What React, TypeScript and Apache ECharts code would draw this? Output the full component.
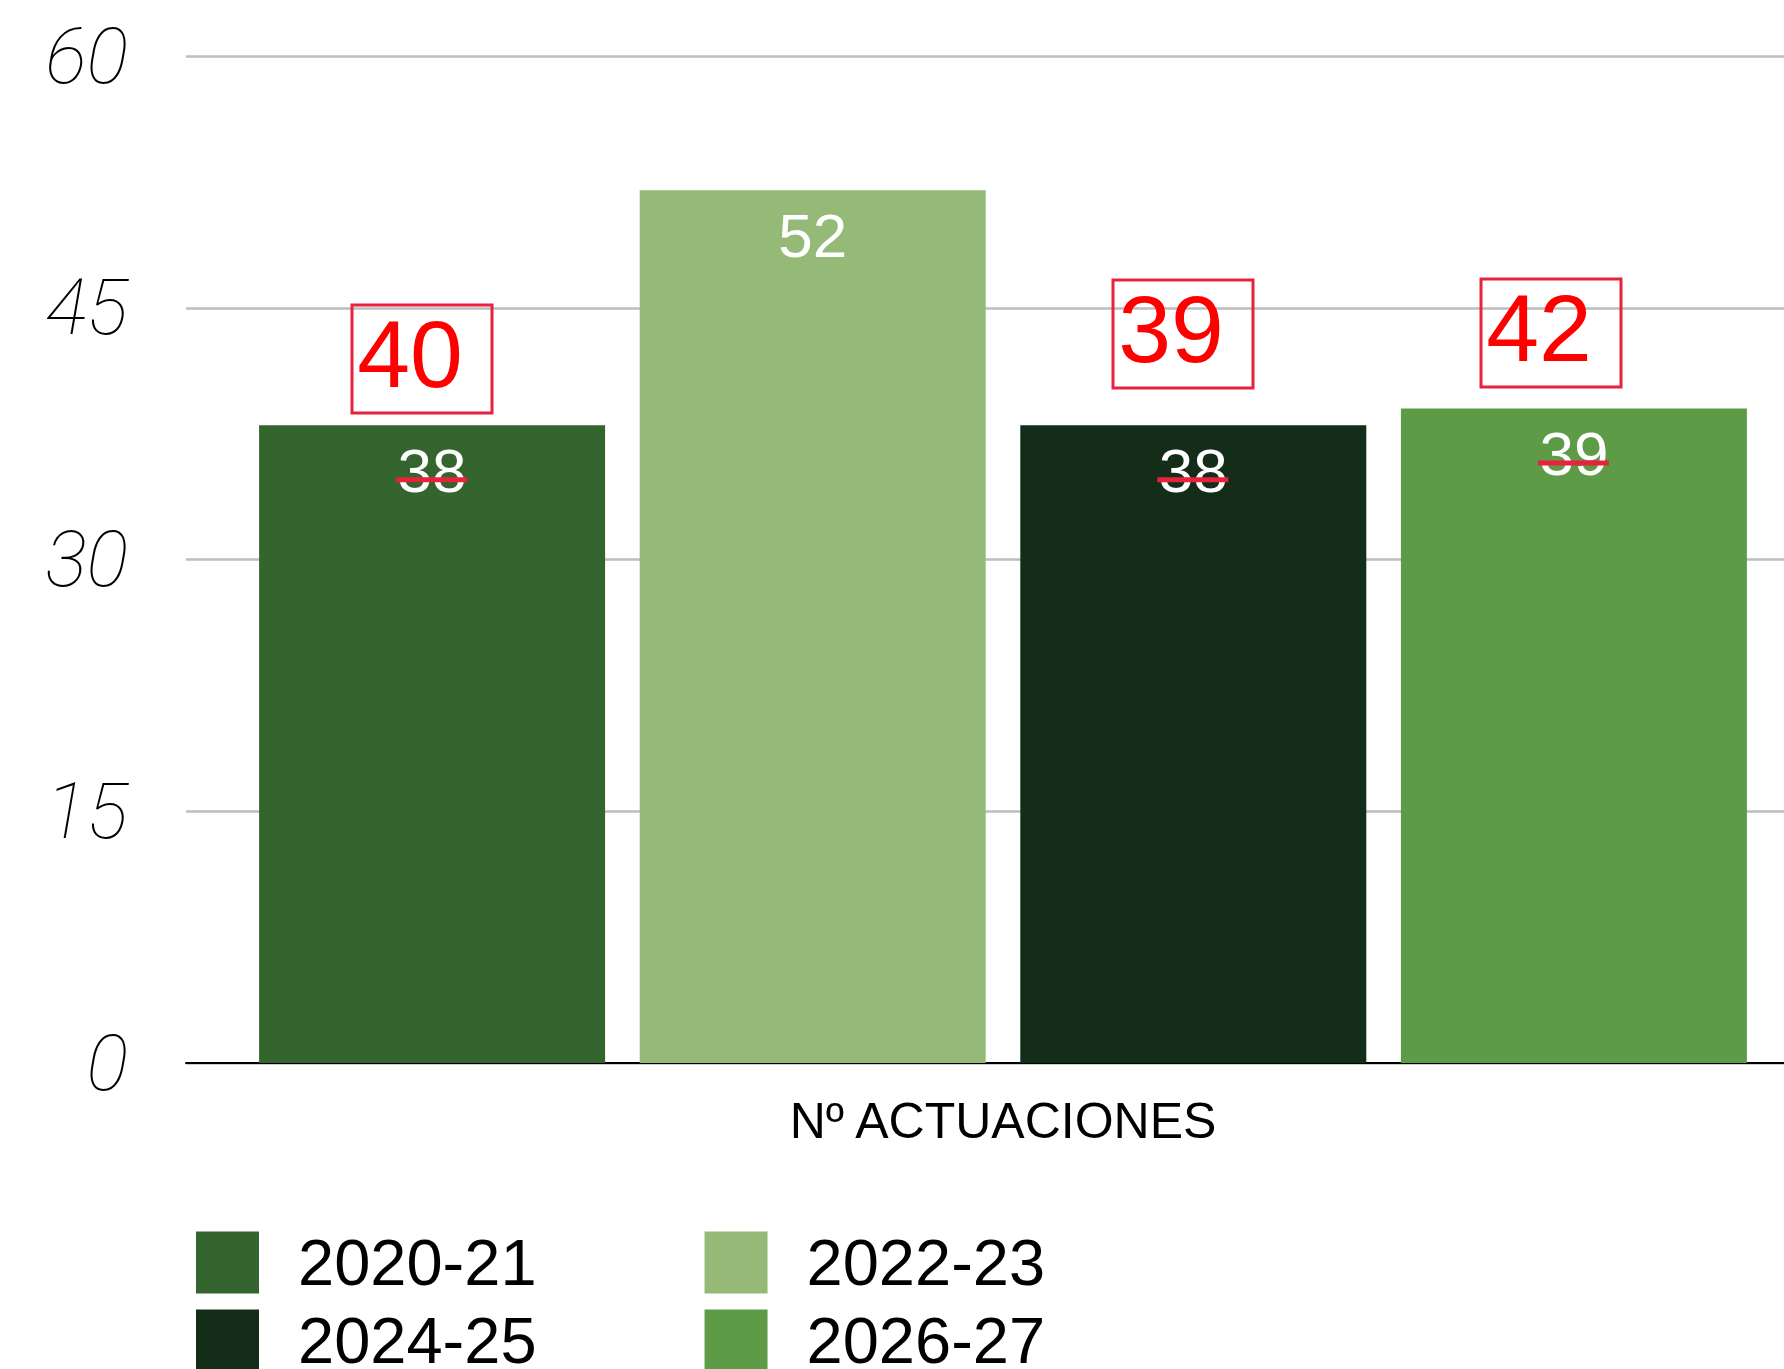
import React, { useEffect, useRef } from "react";
import * as echarts from "echarts";

// ---------- data ----------
const categories = ["Nº ACTUACIONES"];
const seriesNames = ["2020-21", "2022-23", "2024-25", "2026-27"];
const values2020_21 = [38];
const values2022_23 = [52];
const values2024_25 = [38];
const values2026_27 = [39];
const seriesValues = [values2020_21, values2022_23, values2024_25, values2026_27];
const yMin = 0;
const yMax = 60;
const yInterval = 15;
// hand-written corrections over struck-out labels (null = no correction)
const correctedValues: (string | null)[] = ["40", null, "39", "42"];

// ---------- styles ----------
const seriesColors = ["#35652e", "#95b977", "#132d18", "#5d9b46"];
const annotationBoxes: ({ left: number; top: number } | null)[] = [
  { left: 352, top: 305 },
  null,
  { left: 1113, top: 280 },
  { left: 1481, top: 279 },
];
const RED = "#ff0000";
const BOX_RED = "#e8223c";

export default function App() {
  const ref = useRef<HTMLDivElement>(null);

  useEffect(() => {
    if (!ref.current) return;
    const chart = echarts.init(ref.current, undefined, { renderer: "svg" });

    const legendText = {
      fontSize: 65,
      fontFamily: "Liberation Sans, Arial, sans-serif",
      color: "#000",
      padding: [0, 0, 0, 34],
      lineHeight: 62,
    };

    const option: any = {
      animation: false,
      backgroundColor: "#ffffff",
      grid: {
        left: 186,
        width: 1634,
        top: 56,
        bottom: 306,
        containLabel: false,
        outerBoundsMode: "none",
      },
      xAxis: {
        type: "category",
        data: categories,
        axisLine: { show: true, lineStyle: { color: "#000", width: 2 } },
        axisTick: { show: false },
        axisLabel: {
          fontSize: 50,
          fontFamily: "Liberation Sans, Arial, sans-serif",
          color: "#000",
          margin: 33,
        },
      },
      yAxis: {
        type: "value",
        min: yMin,
        max: yMax,
        interval: yInterval,
        axisLine: { show: false },
        axisTick: { show: false },
        splitLine: { lineStyle: { color: "#bdbdbd", width: 2.5 } },
        axisLabel: {
          fontSize: 78,
          fontStyle: "italic",
          fontWeight: 100,
          fontFamily: "Roboto, sans-serif",
          color: "#000",
          margin: 58,
        },
      },
      legend: [
        {
          data: [seriesNames[0], seriesNames[1]],
          left: 196,
          top: 1230,
          icon: "rect",
          itemWidth: 63,
          itemHeight: 62,
          itemGap: 168,
          selectedMode: false,
          padding: 0,
          textStyle: legendText,
        },
        {
          data: [seriesNames[2], seriesNames[3]],
          left: 196,
          top: 1308,
          icon: "rect",
          itemWidth: 63,
          itemHeight: 62,
          itemGap: 168,
          selectedMode: false,
          padding: 0,
          textStyle: legendText,
        },
      ],
      series: seriesNames.map((name, i) => ({
        name,
        type: "bar",
        data: seriesValues[i],
        barWidth: 346,
        barGap: "10%",
        itemStyle: { color: seriesColors[i] },
        label: {
          show: true,
          position: "insideTop",
          distance: 14,
          color: "#ffffff",
          fontSize: 62,
          fontFamily: "Liberation Sans, Arial, sans-serif",
        },
      })),
    };

    chart.setOption(option);

    // annotations: strike-through lines on labels and corrected values in boxes
    const graphics: any[] = [];
    seriesNames.forEach((_, i) => {
      const corr = correctedValues[i];
      if (corr == null) return;
      let layout: any = null;
      try {
        layout = (chart as any).getModel().getSeriesByIndex(i).getData().getItemLayout(0);
      } catch (e) {
        layout = null;
      }
      if (layout) {
        const cx = layout.x + layout.width / 2;
        const top = Math.min(layout.y, layout.y + layout.height);
        graphics.push({
          type: "rect",
          shape: { x: cx - 36, y: top + 52, width: 71, height: 5 },
          style: { fill: BOX_RED },
          z: 100,
        });
      }
      const box = annotationBoxes[i];
      if (box) {
        graphics.push({
          type: "rect",
          shape: { x: box.left, y: box.top, width: 140, height: 108 },
          style: { fill: "rgba(255,255,255,0)", stroke: BOX_RED, lineWidth: 3 },
          z: 100,
        });
        graphics.push({
          type: "text",
          x: box.left + 58,
          y: box.top + 49,
          style: {
            text: corr,
            fill: RED,
            fontSize: 95,
            fontFamily: "Liberation Sans, Arial, sans-serif",
            align: "center",
            verticalAlign: "middle",
          },
          z: 101,
        });
      }
    });
    chart.setOption({ graphic: graphics });

    return () => chart.dispose();
  }, []);

  return (
    <div
      ref={ref}
      style={{ position: "fixed", left: 0, top: 0, width: 1784, height: 1369, background: "#fff" }}
    />
  );
}
